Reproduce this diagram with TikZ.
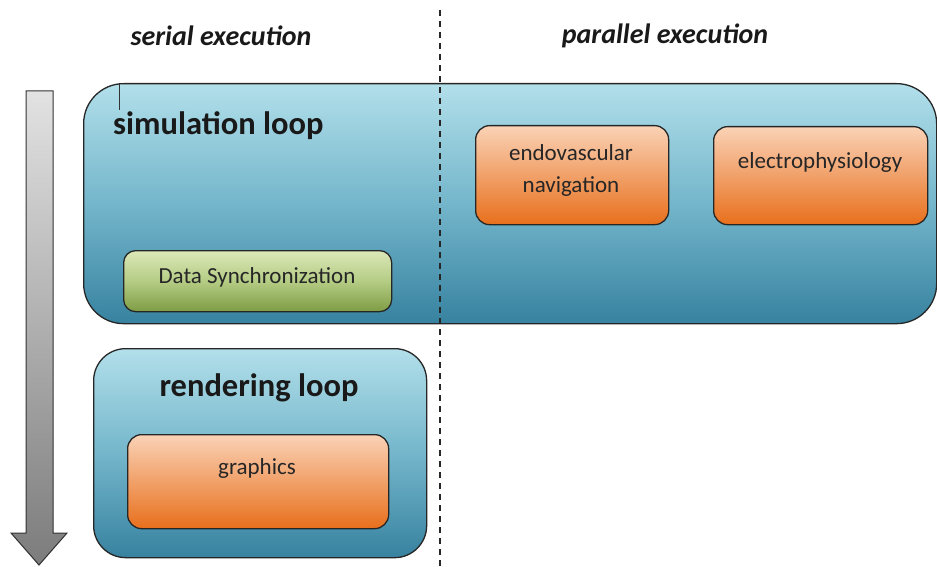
\documentclass[tikz,border=0pt]{standalone}
\usepackage{fontspec}
\setmainfont{Carlito}
\begin{document}
\begin{tikzpicture}[x=1pt,y=-1pt,
  boxline/.style={draw=black!85, line width=1.3pt},
  bluebox/.style={boxline, top color=blue1, bottom color=blue3, middle color=blue2, inner sep=0pt, anchor=north west},
  orangebox/.style={boxline, rounded corners=14pt, top color=orange1, bottom color=orange3, inner sep=0pt, anchor=north west},
  greenbox/.style={boxline, rounded corners=12pt, top color=green1, bottom color=green3, middle color=green2, inner sep=0pt, anchor=north west},
  txt/.style={font=\fontsize{23}{32}\selectfont, text=black!85, align=center, inner sep=0pt},
  title/.style={font=\fontsize{32.5}{36}\selectfont\bfseries, text=black!90, inner sep=0pt},
  header/.style={font=\fontsize{28}{32}\selectfont\bfseries\itshape, text=black!90, inner sep=0pt}
]
\definecolor{blue1}{HTML}{B2DFEA}
\definecolor{blue2}{HTML}{74B6CB}
\definecolor{blue3}{HTML}{3782A0}
\definecolor{orange1}{HTML}{FAD2B6}
\definecolor{orange3}{HTML}{E86F1C}
\definecolor{green1}{HTML}{DCE8B8}
\definecolor{green2}{HTML}{B4CC84}
\definecolor{green3}{HTML}{7E9C44}
\definecolor{gray1}{HTML}{E2E2E2}
\definecolor{gray3}{HTML}{7C7C7C}
\useasboundingbox[fill=white] (0,0) rectangle (937,567);

% time arrow
\shade[draw=black!80, line width=1pt, top color=gray1, bottom color=gray3]
  (26,91) -- (53,91) -- (53,533) -- (67,533) -- (39,565) -- (11,533) -- (26,533) -- cycle;

% simulation loop
\node[bluebox, rounded corners=40pt, minimum width=853pt, minimum height=240pt] (sim) at (83,83) {};
\draw[black!80, line width=0.8pt] (119,84) -- (119,110);
\node[title, anchor=base west] (simt) at (113,135) {simulation loop};

\node[greenbox, minimum width=268pt, minimum height=61pt] (sync) at (123,250) {};
\node[txt] (synct) at (257,277) {Data Synchronization};

\node[orangebox, minimum width=193pt, minimum height=99pt] (endo) at (475,125) {};
\node[txt] (endot) at (571,170) {endovascular\\navigation};

\node[orangebox, minimum width=214pt, minimum height=98pt] (elec) at (713,126) {};
\node[txt] (elect) at (820,162) {electrophysiology};

% rendering loop
\node[bluebox, rounded corners=32pt, minimum width=333pt, minimum height=209pt] (rend) at (93,348) {};
\node[title] (rendt) at (259,388) {rendering loop};
\node[orangebox, minimum width=261pt, minimum height=94pt] (gfx) at (127,434) {};
\node[txt] (gfxt) at (257,468) {graphics};

% headers and divider
\node[header] (ser) at (221,36) {serial execution};
\node[header] (par) at (665,36) {parallel execution};
\coordinate (dtop) at (440,10);
\coordinate (dbot) at (440,567);
\draw[black!85, line width=1.3pt, dash pattern=on 6pt off 5pt] (dtop) -- (dbot);
\end{tikzpicture}
\end{document}
